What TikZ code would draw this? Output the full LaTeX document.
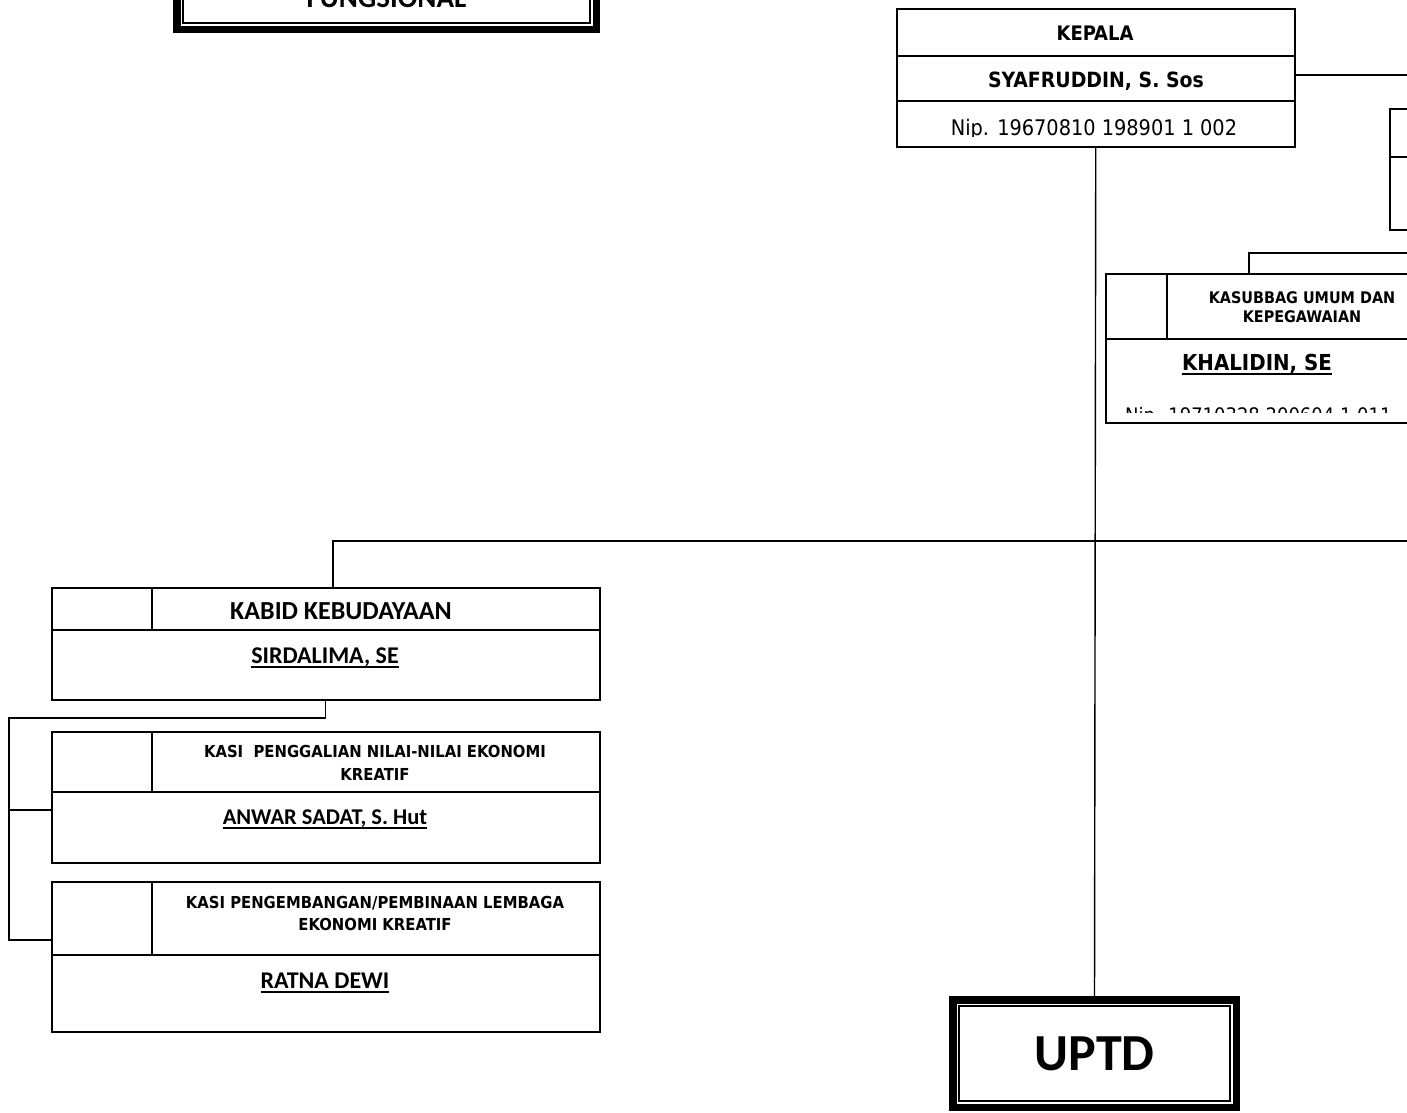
\documentclass[tikz,border=0pt]{standalone}
\usepackage{fontspec}
\setmainfont{Carlito}
\newfontfamily\tahoma{DejaVu Sans Condensed}
\usetikzlibrary{calc}
\newcommand{\bawah}[1]{\setbox0=\hbox{#1}\rlap{\rule[-5pt]{\wd0}{1.7pt}}\box0}

\begin{document}
\begin{tikzpicture}[x=1pt,y=-1pt,
    kotak/.style={draw, line width=1.5pt, inner sep=0pt, anchor=north west},
    bingkai/.style={draw, line width=7.5pt, inner sep=0pt, outer sep=0pt},
    garis/.style={line width=1.4pt},
    nama/.style={inner sep=0pt, anchor=base, font=\bfseries\fontsize{24}{28}\selectfont},
    jabatan/.style={inner sep=0pt, anchor=base, font=\tahoma\bfseries\fontsize{16.5}{18}\selectfont},
    kanan/.style={inner sep=0pt, anchor=base, font=\tahoma\bfseries\fontsize{20}{24}\selectfont}]

\useasboundingbox (0,0) rectangle (1407,1112);
\clip (0,0) rectangle (1407,1112);

% kotak fungsional (terpotong di atas)
\node[bingkai, minimum width=419.5pt, minimum height=62pt, font=\bfseries\fontsize{29}{33}\selectfont] (fungsional) at (386.5,-1.5) {FUNGSIONAL};
\draw[line width=1.8pt] ($(fungsional.south west)+(6.5,-6.5)$) rectangle ($(fungsional.north east)+(-6.5,6.5)$);

% kepala
\node[kotak, minimum width=398pt, minimum height=138pt] (kepala) at (896,8) {};
\draw[garis] (896,56) -- (1294,56);
\draw[garis] (896,101) -- (1294,101);
\node[kanan] (kepalajab) at (1095,40) {KEPALA};
\node[kanan, font=\tahoma\bfseries\fontsize{21}{24}\selectfont] (kepalanama) at (1096,87) {SYAFRUDDIN, S. Sos};
\begin{scope}
  \clip (896,101) rectangle (1294,136);
  \node[kanan, font=\tahoma\fontsize{21.5}{24}\selectfont] (kepalanip) at (1094,135) {Nip. 19670810 198901 1 002};
\end{scope}

% sekretaris (terpotong di kanan)
\node[kotak, minimum width=100pt, minimum height=121pt] (sekre) at (1389,108) {};
\draw[garis] (1389,157) -- (1407,157);

% kasubbag umum
\node[kotak, minimum width=340pt, minimum height=149pt] (kasubbag) at (1105,273) {};
\draw[garis] (1105,339) -- (1407,339);
\draw[garis] (1167,273) -- (1167,339);
\node[kanan, font=\tahoma\bfseries\fontsize{16}{18}\selectfont] (kasubbagjab1) at (1302,303) {KASUBBAG UMUM DAN};
\node[kanan, font=\tahoma\bfseries\fontsize{16}{18}\selectfont] (kasubbagjab2) at (1302,322) {KEPEGAWAIAN};
\node[kanan, font=\tahoma\bfseries\fontsize{22}{24}\selectfont] (kasubbagnama) at (1257,370) {\bawah{KHALIDIN, SE}};
\begin{scope}
  \clip (1105,339) rectangle (1407,412);
  \node[kanan, anchor=base west, font=\tahoma\fontsize{20}{24}\selectfont] (kasubbagnip) at (1125,422) {Nip. 19710328 200604 1 011};
\end{scope}

% kabid kebudayaan
\node[kotak, minimum width=548pt, minimum height=112pt] (kabid) at (51,587) {};
\draw[garis] (51,630) -- (599,630);
\draw[garis] (152,587) -- (152,630);
\node[nama, font=\bfseries\fontsize{26}{28}\selectfont] (kabidjab) at (341,619) {KABID KEBUDAYAAN};
\node[nama] (kabidnama) at (325,663) {\bawah{SIRDALIMA, SE}};

% kasi penggalian
\node[kotak, minimum width=548pt, minimum height=131pt] (kasia) at (51,731) {};
\draw[garis] (51,792) -- (599,792);
\draw[garis] (152,731) -- (152,792);
\node[jabatan] (kasiajab1) at (375,757) {KASI\ \ PENGGALIAN NILAI-NILAI EKONOMI};
\node[jabatan] (kasiajab2) at (375,780) {KREATIF};
\node[nama, font=\bfseries\fontsize{22.5}{28}\selectfont] (kasianama) at (325,824) {\bawah{ANWAR SADAT, S. Hut}};

% kasi pengembangan
\node[kotak, minimum width=548pt, minimum height=150pt] (kasib) at (51,881) {};
\draw[garis] (51,955) -- (599,955);
\draw[garis] (152,881) -- (152,955);
\node[jabatan] (kasibjab1) at (375,908) {KASI PENGEMBANGAN/PEMBINAAN LEMBAGA};
\node[jabatan] (kasibjab2) at (375,930) {EKONOMI KREATIF};
\node[nama] (kasibnama) at (325,988) {\bawah{RATNA DEWI}};

% uptd
\node[bingkai, minimum width=283.5pt, minimum height=107.5pt, font=\bfseries\fontsize{52}{56}\selectfont] (uptd) at (1094.5,1053.5) {UPTD};
\draw[line width=1.8pt] ($(uptd.south west)+(6.5,-6.5)$) rectangle ($(uptd.north east)+(-6.5,6.5)$);

% garis penghubung
\coordinate (kanan0) at (1407,75);
\coordinate (kanan1) at (1407,541);
\coordinate (kanan2) at (1407,253);
\coordinate (cabang) at (333,541);
\coordinate (subtik) at (1249,273);
\coordinate (sisi) at (9,718);
\coordinate (sisia) at (9,810);
\coordinate (sisib) at (9,940);

\draw[garis] (kanan0) -- (kanan0 -| kepala.east);
\draw[garis] (kepala.south) -- (uptd.north);
\draw[garis] (kanan2) -| (subtik);
\draw[garis] (kanan1) -- (cabang) -- (cabang |- kabid.north);
\draw[garis] (kabid.south) |- (sisi) -- (sisib) -- (sisib -| kasib.west);
\draw[garis] (sisia) -- (sisia -| kasia.west);
\end{tikzpicture}
\end{document}
